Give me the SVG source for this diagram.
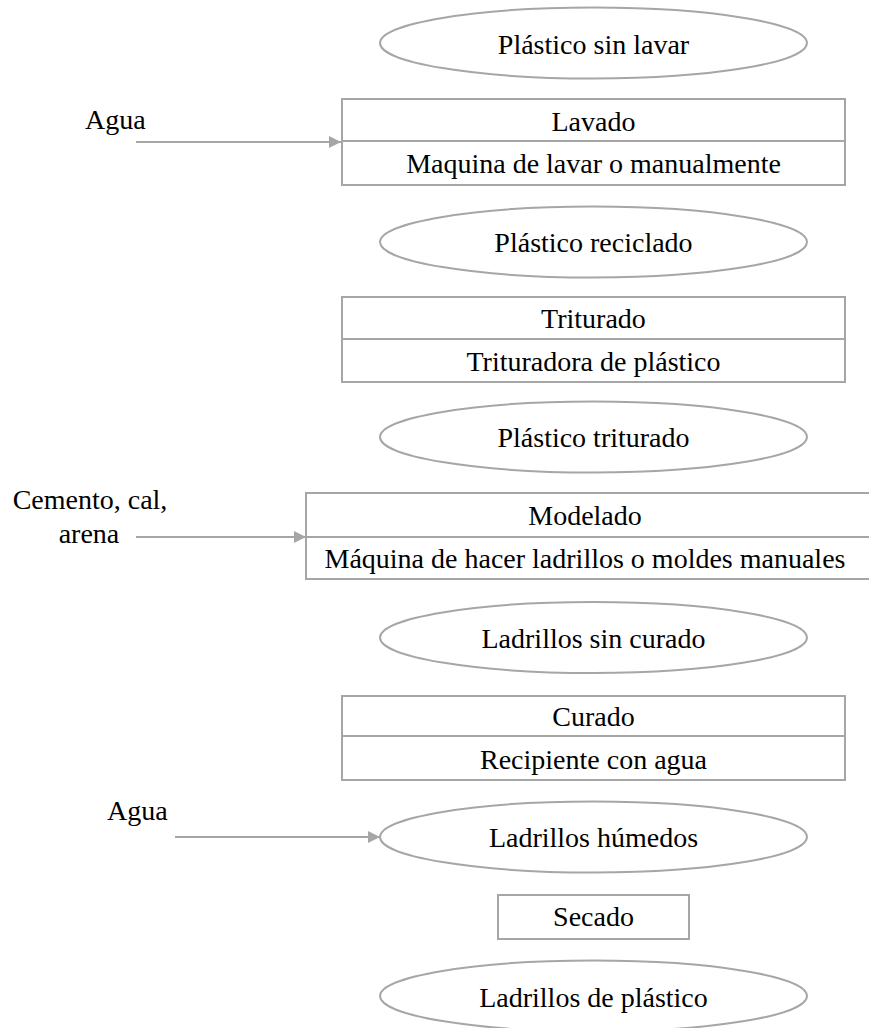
<svg xmlns="http://www.w3.org/2000/svg" width="869" height="1028" viewBox="0 0 869 1028">
<style>
.shape{fill:#ffffff;stroke:#a6a6a6;stroke-width:2}
.line{fill:none;stroke:#a6a6a6;stroke-width:2}
text{font-family:"Liberation Serif","Times New Roman",serif;font-size:28px;fill:#000000}
.c{text-anchor:middle}
</style>
<defs>
<marker id="arr" markerWidth="12" markerHeight="12" refX="12" refY="6" orient="auto" markerUnits="userSpaceOnUse">
<path d="M0,0 L12,6 L0,12 Z" fill="#a6a6a6"/>
</marker>
</defs>
<rect x="0" y="0" width="869" height="1028" fill="#ffffff"/>
<g id="connectors">
<line class="line" x1="136" y1="142" x2="341" y2="142" marker-end="url(#arr)"/>
<line class="line" x1="136" y1="537" x2="306" y2="537" marker-end="url(#arr)"/>
<line class="line" x1="175" y1="837" x2="380" y2="837" marker-end="url(#arr)"/>
</g>
<g id="label-agua1"><text x="85" y="129">Agua</text></g>
<g id="label-cemento"><text class="c" x="90" y="509">Cemento, cal,</text><text class="c" x="89" y="543">arena</text></g>
<g id="label-agua2"><text x="107" y="820">Agua</text></g>
<g id="n-plastico-sin-lavar">
<ellipse class="shape" cx="593.5" cy="43" rx="213.5" ry="35.5"/>
<text class="c" x="593.5" y="54">Plástico sin lavar</text>
</g>
<g id="n-lavado">
<rect class="shape" x="342" y="99" width="503" height="86"/>
<line class="line" x1="342" y1="141" x2="845" y2="141"/>
<text class="c" x="593.5" y="131">Lavado</text>
<text class="c" x="593.5" y="173">Maquina de lavar o manualmente</text>
</g>
<g id="n-plastico-reciclado">
<ellipse class="shape" cx="593.5" cy="242" rx="213.5" ry="35.5"/>
<text class="c" x="593.5" y="252">Plástico reciclado</text>
</g>
<g id="n-triturado">
<rect class="shape" x="342" y="297" width="503" height="85"/>
<line class="line" x1="342" y1="339" x2="845" y2="339"/>
<text class="c" x="593.5" y="328">Triturado</text>
<text class="c" x="593.5" y="371">Trituradora de plástico</text>
</g>
<g id="n-plastico-triturado">
<ellipse class="shape" cx="593.5" cy="437" rx="213.5" ry="35.5"/>
<text class="c" x="593.5" y="447">Plástico triturado</text>
</g>
<g id="n-modelado">
<rect class="shape" x="306" y="493" width="580" height="86"/>
<line class="line" x1="306" y1="537" x2="886" y2="537"/>
<text class="c" x="585" y="525">Modelado</text>
<text class="c" x="585" y="568">Máquina de hacer ladrillos o moldes manuales</text>
</g>
<g id="n-ladrillos-sin-curado">
<ellipse class="shape" cx="593.5" cy="637.5" rx="213.5" ry="35.5"/>
<text class="c" x="593.5" y="648">Ladrillos sin curado</text>
</g>
<g id="n-curado">
<rect class="shape" x="342" y="696" width="503" height="84"/>
<line class="line" x1="342" y1="736" x2="845" y2="736"/>
<text class="c" x="593.5" y="726">Curado</text>
<text class="c" x="593.5" y="769">Recipiente con agua</text>
</g>
<g id="n-ladrillos-humedos">
<ellipse class="shape" cx="593.5" cy="837" rx="213.5" ry="35.5"/>
<text class="c" x="593.5" y="847">Ladrillos húmedos</text>
</g>
<g id="n-secado">
<rect class="shape" x="498" y="895" width="191" height="44"/>
<text class="c" x="593.5" y="926">Secado</text>
</g>
<g id="n-ladrillos-plastico">
<ellipse class="shape" cx="593.5" cy="996" rx="213.5" ry="35.5"/>
<text class="c" x="593.5" y="1007">Ladrillos de plástico</text>
</g>
</svg>
